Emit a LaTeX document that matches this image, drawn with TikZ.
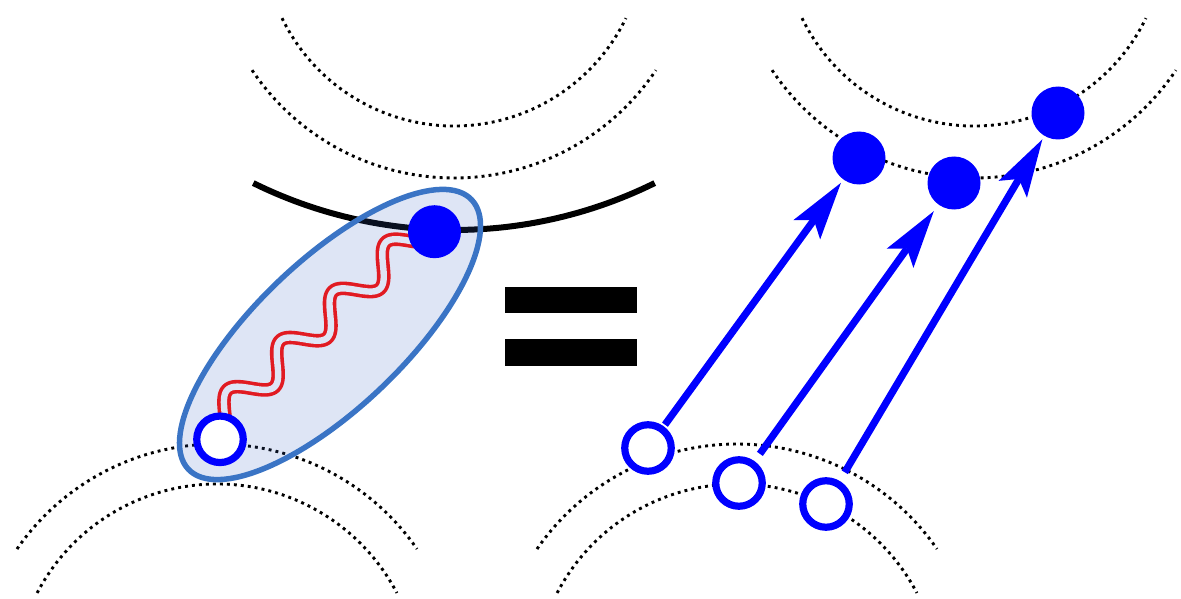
\documentclass[tikz,border=0pt]{standalone}
\usepackage{tikz}
\usetikzlibrary{arrows.meta,calc,backgrounds}
\definecolor{dotblue}{HTML}{0000FF}
\definecolor{loopblue}{HTML}{3A74C5}
\definecolor{loopfill}{HTML}{3B64C2}
\definecolor{softloop}{HTML}{DEE5F5}
\definecolor{wavered}{HTML}{E11B22}
\tikzset{
  orbit/.style={black, line width=2.9pt, dash pattern=on 2.9pt off 4.1pt},
  horizon/.style={black, line width=6pt},
  pairloop/.style={draw=loopblue, line width=5.5pt, fill=loopfill, fill opacity=0.17, draw opacity=1},
  wave/.style={draw=wavered, line width=3.6pt, double=softloop, double distance=6.4pt},
  hole/.style={circle, draw=dotblue, fill=white, line width=7.2pt, minimum size=46.5pt, inner sep=0pt},
  particle/.style={circle, fill=dotblue, minimum size=53pt, inner sep=0pt},
  jump/.style={dotblue, line width=7.2pt, -{Stealth[length=58pt, width=33pt, inset=12pt, line width=0pt]}},
  eqbar/.style={fill=black}
}

\begin{document}
\begin{tikzpicture}[x=1pt, y=-1pt]
  \useasboundingbox (0,0) rectangle (1181,599);
  \node[hole] (hole0) at (220,439.3) {};
  \node[particle] (elec0) at (434.5,231.7) {};
  \node[hole] (hole1) at (648,448) {};
  \node[hole] (hole2) at (739,483) {};
  \node[hole] (hole3) at (826,504) {};
  \node[particle] (elec1) at (859,158) {};
  \node[particle] (elec2) at (954,183) {};
  \node[particle] (elec3) at (1058,113) {};
  \begin{scope}[on background layer]
    \foreach \dx in {0,520} {
      \draw[orbit] (454+\dx,-65) ++(154.2:191) arc[start angle=154.2, end angle=25.8, radius=191];
      \draw[orbit] (454+\dx,-65) ++(146.2:243) arc[start angle=146.2, end angle=33.8, radius=243];
      \draw[orbit] (217+\dx,687) ++(214.6:243) arc[start angle=214.6, end angle=325.4, radius=243];
      \draw[orbit] (217+\dx,687) ++(207.6:203) arc[start angle=207.6, end angle=332.4, radius=203];
    }
    \draw[horizon] (454,-223) ++(116.3:453) arc[start angle=116.3, end angle=63.7, radius=453];
    \draw[pairloop, rotate around={43.6:(330,334.5)}] (330,334.5) ellipse [x radius=195.5, y radius=74];
    \path let \p1=(hole0.80), \p2=(elec0.200) in
      \pgfextra{\pgfmathsetmacro\wavetilt{atan2(\y2-\y1,\x2-\x1)}\xdef\wavetilt{\wavetilt}%
                \pgfmathsetmacro\wavelen{veclen(\x2-\x1,\y2-\y1)}\xdef\wavelen{\wavelen}};
    \begin{scope}[shift={(hole0.80)}, rotate=\wavetilt]
      \draw[wave, shorten <=-4pt, shorten >=-6pt] plot[domain=0:\wavelen, samples=160] (\x, {-15*sin(\x/\wavelen*1260)});
    \end{scope}
    \draw[jump, shorten <=2pt, shorten >=4pt] (hole1) -- (elec1);
    \draw[jump, shorten <=9pt, shorten >=8pt] (hole2) -- (elec2);
    \draw[jump, shorten <=10pt, shorten >=4pt] (hole3) -- (elec3);
  \end{scope}
  \fill[eqbar] (505,287.3) rectangle (636.7,313.3);
  \fill[eqbar] (505,339.3) rectangle (636.7,365.7);
\end{tikzpicture}
\end{document}
